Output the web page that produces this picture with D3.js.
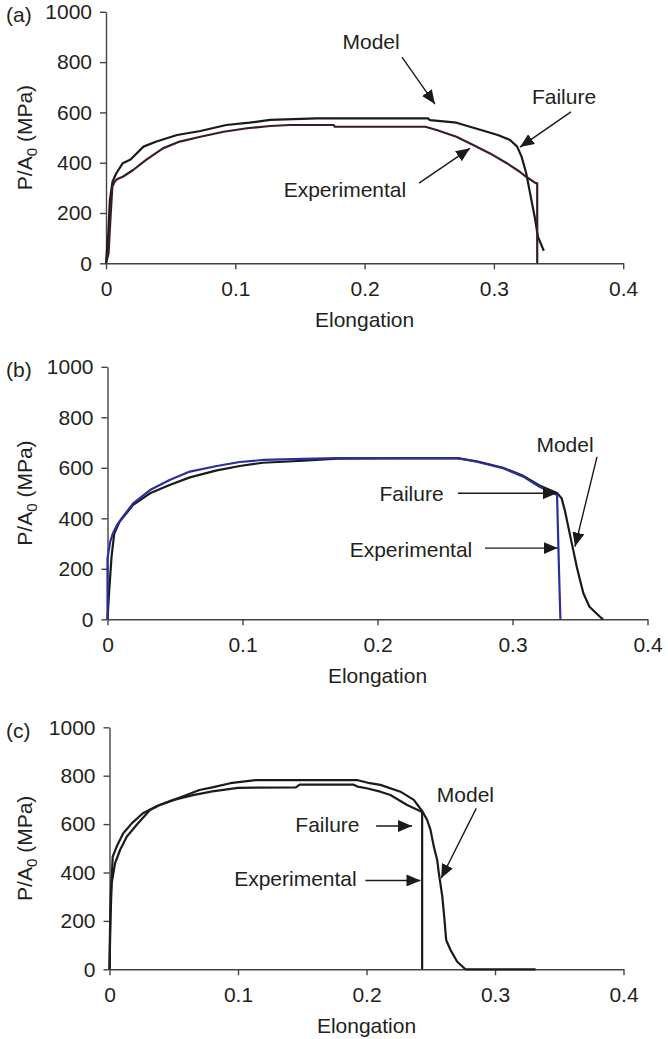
<!DOCTYPE html>
<html><head><meta charset="utf-8">
<script src="https://cdn.jsdelivr.net/npm/d3@7"></script>
<style>
body{margin:0;background:#fff}
text{font-family:"Liberation Sans",Arial,Helvetica,sans-serif;fill:#231f20}
</style>
</head><body><svg id="chart" width="668" height="1039"></svg>
<script>
// ---------- data ----------
const xTicks = [0, 0.1, 0.2, 0.3, 0.4];
const xTickLabels = ["0", "0.1", "0.2", "0.3", "0.4"];
const yTicks = [0, 200, 400, 600, 800, 1000];
const yTickLabels = ["0", "200", "400", "600", "800", "1000"];
const panelLabels = ["(a)", "(b)", "(c)"];
const xTitle = "Elongation";
const annotationLabels = ["Model", "Failure", "Experimental"];

// panel (a)
const aExpE = [0, 0.002, 0.0028, 0.0038, 0.0049, 0.0067, 0.0085, 0.013, 0.021, 0.031, 0.044, 0.057, 0.073, 0.091, 0.109, 0.127, 0.142, 0.176, 0.177, 0.247, 0.2557, 0.271, 0.284, 0.297, 0.31, 0.32, 0.325, 0.332, 0.3335, 0.3335];
const aExpV = [0, 40, 120, 210, 305, 324, 334, 344, 371, 411, 457, 484, 503, 523, 537, 546, 550, 550, 543, 543, 530, 503, 470, 437, 398, 364, 344, 320, 318, 0];
const aModE = [0, 0.0018, 0.003, 0.0044, 0.005, 0.008, 0.013, 0.019, 0.029, 0.039, 0.055, 0.073, 0.093, 0.111, 0.127, 0.163, 0.249, 0.2506, 0.263, 0.271, 0.2815, 0.292, 0.303, 0.3125, 0.318, 0.3214, 0.325, 0.328, 0.332, 0.334, 0.3386];
const aModV = [0, 120, 250, 302, 324, 358, 398, 413, 464, 484, 510, 526, 550, 559, 570, 576, 576, 569, 563, 559, 543, 527, 510, 490, 464, 424, 358, 278, 172, 106, 50];

// panel (b)
const bExpE = [0, 0, 0.002, 0.004, 0.007, 0.0105, 0.019, 0.0315, 0.046, 0.061, 0.081, 0.098, 0.115, 0.145, 0.17, 0.259, 0.2735, 0.293, 0.308, 0.32, 0.333, 0.3345, 0.3355];
const bExpV = [0, 242, 307, 340, 373, 400, 459, 512, 552, 585, 607, 623, 631, 635, 638, 638, 624, 598, 565, 525, 492, 182, 0];
const bModE = [0, 0.0013, 0.003, 0.005, 0.009, 0.019, 0.0315, 0.046, 0.061, 0.081, 0.098, 0.115, 0.145, 0.17, 0.259, 0.2735, 0.293, 0.308, 0.32, 0.333, 0.3364, 0.339, 0.3413, 0.345, 0.3476, 0.35, 0.3525, 0.357, 0.3648, 0.367];
const bModV = [0, 116, 248, 340, 387, 453, 499, 532, 562, 590, 607, 620, 628, 636, 638, 626, 600, 568, 530, 500, 479, 426, 367, 274, 208, 156, 103, 50, 10, 0];

// panel (c)
const cExpE = [0, 0.0004, 0.0008, 0.0012, 0.0025, 0.0056, 0.0107, 0.0173, 0.026, 0.037, 0.05, 0.065, 0.08, 0.1, 0.145, 0.148, 0.19, 0.193, 0.2, 0.2108, 0.2186, 0.2316, 0.2433, 0.2433];
const cExpV = [0, 163, 260, 328, 465, 507, 562, 603, 645, 675, 700, 720, 735, 750, 752, 763, 763, 755, 748, 734, 720, 679, 650, 0];
const cModE = [0, 0.0008, 0.0017, 0.0043, 0.0082, 0.0134, 0.021, 0.0315, 0.039, 0.05, 0.06, 0.07, 0.08, 0.094, 0.1136, 0.1926, 0.2025, 0.2108, 0.2264, 0.2368, 0.2437, 0.2472, 0.2498, 0.2524, 0.255, 0.2563, 0.259, 0.2605, 0.262, 0.2654, 0.2706, 0.277, 0.3316];
const cModV = [0, 217, 355, 438, 493, 548, 596, 658, 679, 700, 720, 741, 752, 769, 782, 782, 769, 762, 734, 700, 651, 617, 576, 507, 452, 397, 300, 217, 121, 80, 31, 0, 0];

// ---------- layout ----------
const FS = 21;
const panels = [
  { label: panelLabels[0], x0: 106, x1: 623.2, yB: 263.3, yT: 11.8,
    exp: [aExpE, aExpV], mod: [aModE, aModV], expColor: "#3b1d29",
    ann: [ // [label, textE, textV, fromE, fromV, toE, toV]
      [0, 0.205, 881, 0.2289, 820, 0.2544, 633],
      [1, 0.3542, 662, 0.3596, 602, 0.3202, 462],
      [2, 0.1848, 291, 0.2421, 319, 0.2815, 457]] },
  { label: panelLabels[1], x0: 107.5, x1: 647.5, yB: 619.3, yT: 366.8,
    exp: [bExpE, bExpV], mod: [bModE, bModV], expColor: "#2b2f9c",
    ann: [
      [0, 0.3389, 690, 0.3626, 643, 0.3463, 288],
      [1, 0.2252, 499, 0.2596, 499, 0.3327, 499],
      [2, 0.2248, 274, 0.2796, 282, 0.3335, 282]] },
  { label: panelLabels[2], x0: 109.5, x1: 623.5, yB: 969.3, yT: 727.3,
    exp: [cExpE, cExpV], mod: [cModE, cModV], expColor: "#1c1c1c",
    ann: [
      [0, 0.277, 720, 0.2854, 665, 0.2581, 376],
      [1, 0.1696, 596, 0.2075, 592, 0.2354, 592],
      [2, 0.1447, 376, 0.1992, 367, 0.2420, 367]] }
];

const svg = d3.select("#chart");
const defs = svg.append("defs");
defs.append("marker").attr("id", "arr")
  .attr("viewBox", "0 0 14 12").attr("refX", 14).attr("refY", 6)
  .attr("markerWidth", 14).attr("markerHeight", 12)
  .attr("markerUnits", "userSpaceOnUse").attr("orient", "auto")
  .append("path").attr("d", "M0,0 L14,6 L0,12 Z").attr("fill", "#1a1a1a");

panels.forEach(p => {
  const x = d3.scaleLinear().domain([0, 0.4]).range([p.x0, p.x1]);
  const y = d3.scaleLinear().domain([0, 1000]).range([p.yB, p.yT]);
  const g = svg.append("g");

  const yAx = g.append("g").attr("transform", `translate(${p.x0},0)`)
    .call(d3.axisLeft(y).tickValues(yTicks).tickFormat((d, i) => yTickLabels[i])
      .tickSize(6).tickSizeOuter(0).tickPadding(8));
  const xAx = g.append("g").attr("transform", `translate(0,${p.yB})`)
    .call(d3.axisBottom(x).tickValues(xTicks).tickFormat((d, i) => xTickLabels[i])
      .tickSize(6).tickSizeOuter(0).tickPadding(12));
  [yAx, xAx].forEach(a => {
    a.attr("font-size", FS).attr("font-family", null);
    a.selectAll("path.domain").attr("stroke", "#444").attr("stroke-width", 1.4);
    a.selectAll("line").attr("stroke", "#444").attr("stroke-width", 1.4);
    a.selectAll("text").attr("fill", "#231f20");
  });

  // axis titles
  g.append("text").attr("x", (p.x0 + p.x1) / 2).attr("y", p.yB + 56)
    .attr("dy", "0.35em").attr("text-anchor", "middle").attr("font-size", FS).text(xTitle);
  const yt = g.append("text")
    .attr("transform", `translate(25,${(p.yB + p.yT) / 2}) rotate(-90)`)
    .attr("dy", "0.35em").attr("text-anchor", "middle").attr("font-size", FS);
  yt.append("tspan").text("P/A");
  yt.append("tspan").attr("font-size", FS * 0.72).attr("dy", "0.3em").text("0");
  yt.append("tspan").attr("dy", "-0.22em").text(" (MPa)");

  // panel label
  g.append("text").attr("x", 6).attr("y", p.yT + 3).attr("dy", "0.35em")
    .attr("font-size", FS).text(p.label);

  const line = d3.line().x(d => x(d[0])).y(d => y(d[1]));
  const toPts = arr => arr[0].map((e, i) => [e, arr[1][i]]);

  g.append("path").attr("d", line(toPts(p.mod))).attr("fill", "none")
    .attr("stroke", "#1a1a1a").attr("stroke-width", 2.2).attr("stroke-linejoin", "round");
  g.append("path").attr("d", line(toPts(p.exp))).attr("fill", "none")
    .attr("stroke", p.expColor).attr("stroke-width", 2.2).attr("stroke-linejoin", "round");

  // annotations
  p.ann.forEach(a => {
    g.append("text").attr("x", x(a[1])).attr("y", y(a[2])).attr("dy", "0.35em")
      .attr("text-anchor", "middle").attr("font-size", FS).text(annotationLabels[a[0]]);
    g.append("line").attr("x1", x(a[3])).attr("y1", y(a[4]))
      .attr("x2", x(a[5])).attr("y2", y(a[6]))
      .attr("stroke", "#1a1a1a").attr("stroke-width", 1.4).attr("marker-end", "url(#arr)");
  });
});
</script>
</body></html>
